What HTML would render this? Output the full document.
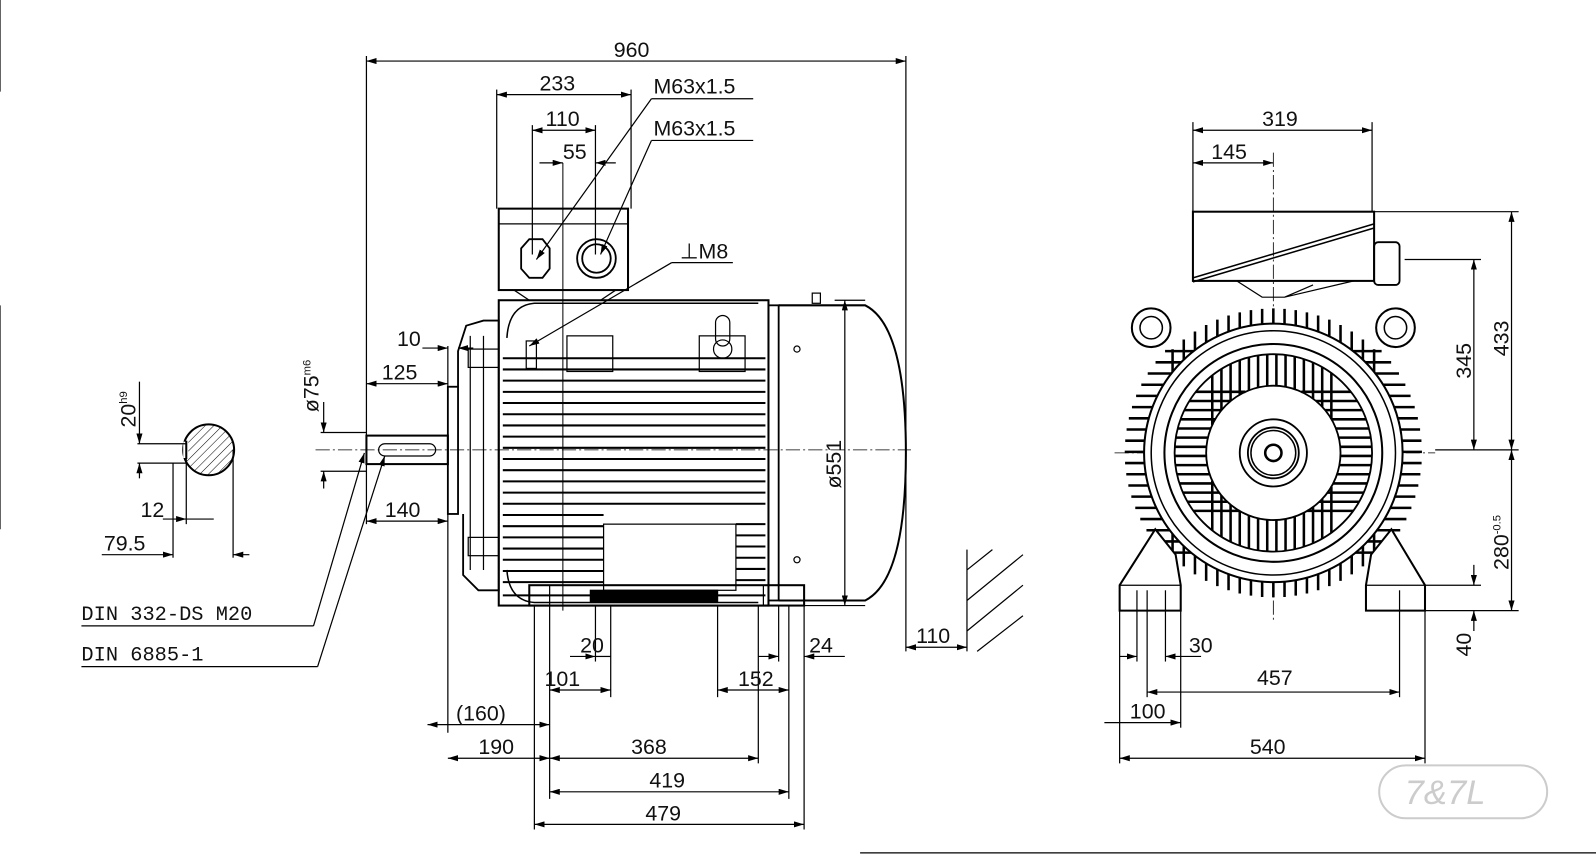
<!DOCTYPE html>
<html><head><meta charset="utf-8"><style>
html,body{margin:0;padding:0;background:#fff;}
svg{display:block;}
text{font-family:"Liberation Sans",sans-serif;font-size:21px;fill:#111;}
</style></head><body>
<svg id="s" width="1596" height="860" viewBox="0 0 1568 845" preserveAspectRatio="none" xmlns="http://www.w3.org/2000/svg">
<defs>
<marker id="a" viewBox="0 0 10 6" refX="10" refY="3" markerWidth="10" markerHeight="6" orient="auto-start-reverse" markerUnits="userSpaceOnUse"><path d="M0,0 L10,3 L0,6z" fill="#000"/></marker>
<pattern id="h" width="6" height="6" patternUnits="userSpaceOnUse" patternTransform="rotate(45)"><line x1="0" y1="0" x2="0" y2="6" stroke="#000" stroke-width="1"/></pattern>
</defs>
<g stroke="#000" fill="none" stroke-width="1.2" id="g">
<line x1="0" y1="0" x2="0" y2="90"/><line x1="0" y1="300" x2="0" y2="520"/>
<line x1="845" y1="838" x2="1568" y2="838"/>
<line x1="310" y1="442" x2="895" y2="442" stroke-dasharray="14 3 2 3" stroke-width="0.8"/>
<line x1="1095" y1="445" x2="1410" y2="445" stroke-dasharray="14 3 2 3" stroke-width="0.8"/>
<line x1="1251" y1="150" x2="1251" y2="610" stroke-dasharray="14 3 2 3" stroke-width="0.8"/>
<line x1="553" y1="160" x2="553" y2="600" stroke-width="1"/>

<circle cx="205" cy="442" r="25" stroke-width="2" fill="url(#h)"/>
<rect x="180" y="434" width="5" height="16" fill="#fff" stroke="none"/>
<line x1="183" y1="433" x2="183" y2="451" stroke-width="2"/>
<line x1="135" y1="436" x2="183" y2="436"/><line x1="135" y1="455" x2="183" y2="455"/>
<line x1="137" y1="375" x2="137" y2="436" marker-end="url(#a)"/><line x1="137" y1="470" x2="137" y2="455" marker-end="url(#a)"/>
<line x1="183" y1="451" x2="183" y2="515"/><line x1="170" y1="455" x2="170" y2="548"/><line x1="229" y1="442" x2="229" y2="548"/>
<line x1="160" y1="510" x2="183" y2="510" marker-end="url(#a)"/><line x1="210" y1="510" x2="183" y2="510"/>
<line x1="100" y1="545" x2="170" y2="545" marker-end="url(#a)"/><line x1="245" y1="545" x2="229" y2="545" marker-end="url(#a)"/>

<rect x="360" y="428" width="80" height="28" stroke-width="2"/>
<rect x="372" y="436" width="56" height="12" rx="6"/>
<rect x="440" y="380" width="10" height="125" stroke-width="1.8"/>
<path d="M450,380 V345 L458,320 L475,315 H490 V580 H470 L455,565 V505" stroke-width="1.8"/>
<line x1="462" y1="330" x2="462" y2="560"/><line x1="475" y1="330" x2="475" y2="560"/>
<rect x="460" y="343" width="30" height="18"/><rect x="460" y="528" width="30" height="18"/>
<rect x="490" y="295" width="265" height="300" stroke-width="2"/>
<path d="M498,332 Q500,300 525,298 H745" stroke-width="1.5"/>
<path d="M498,560 Q500,590 525,592 H745" stroke-width="1.5"/>
<rect x="557" y="330" width="45" height="35"/><rect x="687" y="330" width="45" height="35"/>
<circle cx="710" cy="343" r="9"/><rect x="703" y="310" width="14" height="30" rx="7"/>
<rect x="517" y="335" width="10" height="27"/>
<rect x="593" y="515" width="130" height="65"/>
<g id="fins" stroke-width="2"></g>
<rect x="755" y="300" width="10" height="290" stroke-width="1.8"/>
<path d="M765,300 H850 Q890,320 890,445 Q890,570 850,590 H765" stroke-width="2"/>
<circle cx="783" cy="343" r="3"/><circle cx="783" cy="550" r="3"/>
<rect x="798" y="288" width="8" height="10"/>
<rect x="520" y="575" width="270" height="20" stroke-width="2"/>
<rect x="580" y="580" width="125" height="12" fill="#000"/>
<line x1="540" y1="575" x2="540" y2="595"/><line x1="750" y1="575" x2="750" y2="595"/>
<rect x="490" y="205" width="127" height="80" stroke-width="2"/>
<line x1="490" y1="220" x2="617" y2="220"/>
<path d="M505,285 L520,295 H590 L605,285"/>
<polygon points="512,244 520,235 533,235 540,244 540,264 533,273 520,273 512,264" stroke-width="1.8"/>
<circle cx="586" cy="254" r="19" stroke-width="1.8"/><circle cx="586" cy="254" r="14" stroke-width="1.8"/>

<line x1="360" y1="55" x2="360" y2="515"/><line x1="890" y1="55" x2="890" y2="640"/>
<line x1="360" y1="60" x2="890" y2="60" marker-start="url(#a)" marker-end="url(#a)"/>
<line x1="488" y1="88" x2="488" y2="205"/><line x1="620" y1="88" x2="620" y2="205"/>
<line x1="488" y1="93" x2="620" y2="93" marker-start="url(#a)" marker-end="url(#a)"/>
<line x1="523" y1="123" x2="523" y2="250"/><line x1="585" y1="123" x2="585" y2="250"/>
<line x1="523" y1="128" x2="585" y2="128" marker-start="url(#a)" marker-end="url(#a)"/>
<line x1="530" y1="160" x2="553" y2="160" marker-end="url(#a)"/><line x1="605" y1="160" x2="585" y2="160" marker-end="url(#a)"/>
<line x1="740" y1="97" x2="640" y2="97"/><line x1="640" y1="97" x2="527" y2="255" marker-end="url(#a)"/>
<line x1="740" y1="138" x2="640" y2="138"/><line x1="640" y1="138" x2="590" y2="250" marker-end="url(#a)"/>
<line x1="720" y1="258" x2="660" y2="258"/><line x1="660" y1="258" x2="520" y2="340" marker-end="url(#a)"/>
<line x1="415" y1="342" x2="440" y2="342" marker-end="url(#a)"/><line x1="465" y1="342" x2="450" y2="342" marker-end="url(#a)"/>
<line x1="360" y1="377" x2="440" y2="377" marker-start="url(#a)" marker-end="url(#a)"/>
<line x1="440" y1="340" x2="440" y2="720"/>
<line x1="360" y1="512" x2="440" y2="512" marker-start="url(#a)" marker-end="url(#a)"/>
<line x1="315" y1="425" x2="360" y2="425"/><line x1="315" y1="463" x2="360" y2="463"/>
<line x1="318" y1="395" x2="318" y2="425" marker-end="url(#a)"/><line x1="318" y1="480" x2="318" y2="463" marker-end="url(#a)"/>
<line x1="830" y1="295" x2="830" y2="595" marker-start="url(#a)" marker-end="url(#a)"/>
<line x1="850" y1="295" x2="820" y2="295"/><line x1="850" y1="595" x2="790" y2="595"/>
<line x1="80" y1="615" x2="308" y2="615"/><line x1="308" y1="615" x2="358" y2="445" marker-end="url(#a)"/>
<line x1="80" y1="655" x2="312" y2="655"/><line x1="312" y1="655" x2="378" y2="448" marker-end="url(#a)"/>
<line x1="525" y1="595" x2="525" y2="815"/><line x1="540" y1="595" x2="540" y2="785"/>
<line x1="600" y1="595" x2="600" y2="685"/><line x1="585" y1="595" x2="585" y2="650"/>
<line x1="705" y1="595" x2="705" y2="685"/><line x1="745" y1="595" x2="745" y2="750"/>
<line x1="775" y1="595" x2="775" y2="785"/><line x1="790" y1="595" x2="790" y2="815"/><line x1="765" y1="595" x2="765" y2="650"/>
<line x1="560" y1="645" x2="585" y2="645" marker-end="url(#a)"/><line x1="600" y1="645" x2="585" y2="645"/>
<line x1="540" y1="678" x2="600" y2="678" marker-start="url(#a)" marker-end="url(#a)"/>
<line x1="745" y1="645" x2="765" y2="645" marker-end="url(#a)"/><line x1="830" y1="645" x2="790" y2="645" marker-end="url(#a)"/>
<line x1="705" y1="678" x2="775" y2="678" marker-start="url(#a)" marker-end="url(#a)"/>
<line x1="420" y1="712" x2="540" y2="712" marker-start="url(#a)" marker-end="url(#a)"/>
<line x1="440" y1="745" x2="540" y2="745" marker-start="url(#a)" marker-end="url(#a)"/>
<line x1="540" y1="745" x2="745" y2="745" marker-start="url(#a)" marker-end="url(#a)"/>
<line x1="540" y1="778" x2="775" y2="778" marker-start="url(#a)" marker-end="url(#a)"/>
<line x1="525" y1="810" x2="790" y2="810" marker-start="url(#a)" marker-end="url(#a)"/>
<line x1="890" y1="636" x2="950" y2="636" marker-start="url(#a)" marker-end="url(#a)"/>
<line x1="950" y1="540" x2="950" y2="640"/>
<line x1="950" y1="560" x2="975" y2="540"/><line x1="950" y1="590" x2="1005" y2="545"/><line x1="950" y1="620" x2="1005" y2="575"/><line x1="960" y1="640" x2="1005" y2="605"/>

<g id="rv"></g>
<circle cx="1251" cy="445" r="127" stroke-width="2" fill="#fff"/>
<circle cx="1251" cy="445" r="120" stroke-width="1.5"/>
<circle cx="1251" cy="445" r="107" stroke-width="2"/>
<g id="rv2"></g>
<circle cx="1251" cy="445" r="97" stroke-width="1.8"/>
<circle cx="1251" cy="445" r="66" stroke-width="1.8"/>
<circle cx="1251" cy="445" r="33" stroke-width="1.8"/>
<circle cx="1251" cy="445" r="25" stroke-width="1.8"/><circle cx="1251" cy="445" r="22" stroke-width="1.5"/>
<circle cx="1251" cy="445" r="8" stroke-width="2.5"/>
<rect x="1172" y="208" width="178" height="68" stroke-width="2"/>
<line x1="1172" y1="273" x2="1350" y2="220" stroke-width="1.5"/><line x1="1172" y1="277" x2="1350" y2="224" stroke-width="1.5"/>
<rect x="1350" y="238" width="25" height="42" rx="4" stroke-width="1.8"/>
<path d="M1215,276 L1240,292 H1262 L1330,276 M1262,292 L1290,280"/>
<circle cx="1131" cy="322" r="19" stroke-width="2" fill="#fff"/><circle cx="1131" cy="322" r="11" stroke-width="1.5"/>
<circle cx="1371" cy="322" r="19" stroke-width="2" fill="#fff"/><circle cx="1371" cy="322" r="11" stroke-width="1.5"/>
<path d="M1100,600 V575 L1135,520 L1155,545 L1160,575 V600 Z" stroke-width="2" fill="#fff"/>
<path d="M1400,600 V575 L1367,520 L1347,545 L1342,575 V600 Z" stroke-width="2" fill="#fff"/>
<line x1="1100" y1="575" x2="1160" y2="575"/><line x1="1342" y1="575" x2="1400" y2="575"/>
<line x1="1172" y1="120" x2="1172" y2="208"/><line x1="1348" y1="120" x2="1348" y2="208"/>
<line x1="1172" y1="128" x2="1348" y2="128" marker-start="url(#a)" marker-end="url(#a)"/>
<line x1="1172" y1="160" x2="1251" y2="160" marker-start="url(#a)" marker-end="url(#a)"/>
<line x1="1350" y1="208" x2="1492" y2="208"/><line x1="1380" y1="255" x2="1455" y2="255"/>
<line x1="1410" y1="442" x2="1492" y2="442"/><line x1="1400" y1="600" x2="1492" y2="600"/><line x1="1400" y1="575" x2="1455" y2="575"/>
<line x1="1485" y1="208" x2="1485" y2="442" marker-start="url(#a)" marker-end="url(#a)"/>
<line x1="1485" y1="442" x2="1485" y2="600" marker-start="url(#a)" marker-end="url(#a)"/>
<line x1="1448" y1="255" x2="1448" y2="442" marker-start="url(#a)" marker-end="url(#a)"/>
<line x1="1448" y1="555" x2="1448" y2="575" marker-end="url(#a)"/><line x1="1448" y1="620" x2="1448" y2="600" marker-end="url(#a)"/>
<line x1="1100" y1="600" x2="1100" y2="750"/><line x1="1400" y1="600" x2="1400" y2="750"/>
<line x1="1117" y1="580" x2="1117" y2="650"/><line x1="1127" y1="580" x2="1127" y2="685"/>
<line x1="1145" y1="580" x2="1145" y2="650"/><line x1="1160" y1="600" x2="1160" y2="715"/><line x1="1375" y1="580" x2="1375" y2="685"/>
<line x1="1100" y1="645" x2="1117" y2="645" marker-end="url(#a)"/><line x1="1180" y1="645" x2="1145" y2="645" marker-end="url(#a)"/>
<line x1="1127" y1="680" x2="1375" y2="680" marker-start="url(#a)" marker-end="url(#a)"/>
<line x1="1085" y1="710" x2="1160" y2="710" marker-end="url(#a)"/>
<line x1="1100" y1="745" x2="1400" y2="745" marker-start="url(#a)" marker-end="url(#a)"/>
<rect x="1355" y="752" width="165" height="52" rx="26" stroke="#ccc" stroke-width="2"/>
</g>
<g>
<text x="603" y="56">960</text>
<text x="530" y="89">233</text>
<text x="536" y="124">110</text>
<text x="553" y="156">55</text>
<text x="642" y="92">M63x1.5</text>
<text x="642" y="133">M63x1.5</text>
<text x="668" y="254">⊥M8</text>
<text x="390" y="340">10</text>
<text x="375" y="373">125</text>
<text x="378" y="508">140</text>
<text x="570" y="641">20</text>
<text x="535" y="674">101</text>
<text x="725" y="674">152</text>
<text x="795" y="641">24</text>
<text x="448" y="708">(160)</text>
<text x="470" y="741">190</text>
<text x="620" y="741">368</text>
<text x="638" y="774">419</text>
<text x="634" y="806">479</text>
<text x="900" y="632">110</text>
<text x="138" y="508">12</text>
<text x="102" y="541">79.5</text>
<text x="80" y="609" style="font-family:'Liberation Mono',monospace;font-size:20px">DIN 332-DS M20</text>
<text x="80" y="649" style="font-family:'Liberation Mono',monospace;font-size:20px">DIN 6885-1</text>
<text transform="translate(133,420) rotate(-90)">20<tspan font-size="11" dy="-8">h9</tspan></text>
<text transform="translate(313,405) rotate(-90)">ø75<tspan font-size="11" dy="-8">m6</tspan></text>
<text transform="translate(826,480) rotate(-90)">ø551</text>
<text x="1240" y="124">319</text>
<text x="1190" y="156">145</text>
<text x="1235" y="673">457</text>
<text x="1168" y="641">30</text>
<text x="1110" y="706">100</text>
<text x="1228" y="741">540</text>
<text transform="translate(1482,350) rotate(-90)">433</text>
<text transform="translate(1445,372) rotate(-90)">345</text>
<text transform="translate(1482,560) rotate(-90)">280<tspan font-size="11" dy="-8">-0.5</tspan></text>
<text transform="translate(1445,645) rotate(-90)">40</text>
<text x="1380" y="790" style="fill:#ccc;font-size:34px;font-style:italic">7&amp;7L</text>
</g>
</svg>
<script>
var NS="http://www.w3.org/2000/svg";
function L(p,x1,y1,x2,y2,w){var l=document.createElementNS(NS,"line");l.setAttribute("x1",x1);l.setAttribute("y1",y1);l.setAttribute("x2",x2);l.setAttribute("y2",y2);if(w)l.setAttribute("stroke-width",w);p.appendChild(l);}
var f=document.getElementById("fins");
for(var y=352;y<=580;y+=11){if(y>505&&y<580)L(f,494,y,593,y);else L(f,494,y,752,y);}
for(var y=515;y<580;y+=11)L(f,723,y,752,y);
L(f,494,585,752,585);
var r=document.getElementById("rv"),r2=document.getElementById("rv2"),cx=1251,cy=445;
for(var x=-99;x<=99;x+=11){var h=Math.sqrt(Math.max(0,142*142-x*x));L(r,cx+x,cy-h,cx+x,cy,2.5);L(r,cx+x,cy+h,cx+x,cy,2.5);}
for(var y=-100;y<=100;y+=11){var h=Math.sqrt(146*146-y*y);L(r,cx-h,cy+y,cx,cy+y,2.5);L(r,cx+h,cy+y,cx,cy+y,2.5);}
for(var x=-60;x<=60;x+=9){var h=Math.sqrt(97*97-x*x),h2=Math.sqrt(66*66-x*x);L(r2,cx+x,cy-h,cx+x,cy-h2,2.5);L(r2,cx+x,cy+h,cx+x,cy+h2,2.5);}
for(var y=-60;y<=60;y+=9){var h=Math.sqrt(97*97-y*y),h2=Math.sqrt(66*66-y*y);L(r2,cx-h,cy+y,cx-h2,cy+y,2.5);L(r2,cx+h,cy+y,cx+h2,cy+y,2.5);}
</script>
</body></html>
